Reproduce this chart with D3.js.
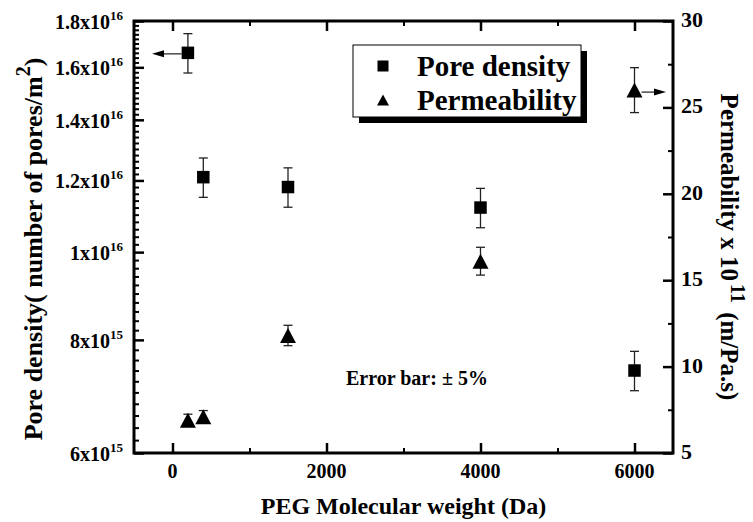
<!DOCTYPE html>
<html>
<head>
<meta charset="utf-8">
<script src="https://cdn.jsdelivr.net/npm/d3@7"></script>
<style>
  body { margin: 0; background: #fff; }
  svg { display: block; font-family: "Liberation Serif", "Times New Roman", serif; font-weight: bold; }
</style>
</head>
<body>
<svg width="753" height="522" font-family="Liberation Serif" font-weight="bold"></svg>
<script>
//Data
const pegWeight = [200, 400, 1500, 4000, 6000];
const poreDensity = [1.66e16, 1.21e16, 1.18e16, 1.12e16, 7.4e15];
const permeability = [6.9, 7.1, 11.8, 16.1, 26.0];
const errorFraction = 0.05;

//Ticks
const xTicks = [0, 2000, 4000, 6000];
const xMinorTicks = [1000, 3000, 5000];
const leftTicks = [6e15, 8e15, 1e16, 1.2e16, 1.4e16, 1.6e16, 1.8e16];
const leftTickBase = ["6x10", "8x10", "1x10", "1.2x10", "1.4x10", "1.6x10", "1.8x10"];
const leftTickExp = ["15", "15", "16", "16", "16", "16", "16"];
const rightTicks = [5, 10, 15, 20, 25, 30];
const rightMinorTicks = [7.5, 12.5, 17.5, 22.5, 27.5];

buildGraph();

function buildGraph()
{
    const left = 134, right = 673, top = 21, bottom = 453;
    const svg = d3.select("svg");

    let xscale = d3.scaleLinear().domain([-500, 6500]).range([left, right]);
    let yleft = d3.scaleLog().domain([6e15, 1.8e16]).range([bottom, top]);
    let yright = d3.scaleLinear().domain([5, 30]).range([bottom, top]);

    // minor ticks of the log axis every 2x10^14
    const leftMinorTicks = d3.range(30, 90).filter(k => k % 10 != 0).map(k => k * 2e14);

    //Ticks (all pointing inward)
    function drawTicks(axis, pos, major, minor) {
        let g1 = svg.append("g").attr("transform", pos)
            .call(axis.tickValues(major).tickSize(-10).tickSizeOuter(0).tickFormat(""));
        g1.selectAll("line").attr("stroke-width", 2.5);
        g1.select(".domain").remove();
        let g2 = svg.append("g").attr("transform", pos)
            .call(axis.tickValues(minor).tickSize(-5).tickSizeOuter(0).tickFormat(""));
        g2.selectAll("line").attr("stroke-width", 2);
        g2.select(".domain").remove();
    }
    drawTicks(d3.axisBottom(xscale), `translate(0,${bottom})`, xTicks, xMinorTicks);
    drawTicks(d3.axisTop(xscale), `translate(0,${top})`, xTicks, xMinorTicks);
    drawTicks(d3.axisLeft(yleft), `translate(${left},0)`, leftTicks, leftMinorTicks);
    drawTicks(d3.axisRight(yright), `translate(${right},0)`, rightTicks, rightMinorTicks);

    //Frame
    svg.append("rect")
        .attr("x", left).attr("y", top)
        .attr("width", right - left).attr("height", bottom - top)
        .attr("fill", "none").attr("stroke", "#000").attr("stroke-width", 3);

    //Tick labels
    svg.append("g").selectAll("text")
        .data(xTicks)
        .enter().append("text")
        .attr("x", d => xscale(d))
        .attr("y", 478)
        .attr("text-anchor", "middle")
        .attr("font-size", 20)
        .text(d => d);

    let ll = svg.append("g").selectAll("text")
        .data(leftTicks)
        .enter().append("text")
        .attr("x", 123)
        .attr("y", d => yleft(d) + 8)
        .attr("text-anchor", "end")
        .attr("font-size", 20);
    ll.append("tspan").text((d, i) => leftTickBase[i]);
    ll.append("tspan").attr("dy", -9).attr("font-size", 13).text((d, i) => leftTickExp[i]);

    svg.append("g").selectAll("text")
        .data(rightTicks)
        .enter().append("text")
        .attr("x", 681)
        .attr("y", d => yright(d) + 6)
        .attr("font-size", 22)
        .text(d => d);

    //Axis titles
    svg.append("text")
        .attr("x", (left + right) / 2)
        .attr("y", 514)
        .attr("text-anchor", "middle")
        .attr("font-size", 24)
        .text("PEG Molecular weight (Da)");

    let lt = svg.append("text")
        .attr("transform", `translate(42,${(top + bottom) / 2 + 12}) rotate(-90)`)
        .attr("text-anchor", "middle")
        .attr("font-size", 26);
    lt.append("tspan").text("Pore density( number of pores/m");
    lt.append("tspan").attr("dy", -12).attr("font-size", 20).text("2");
    lt.append("tspan").attr("dy", 12).text(")");

    let rt = svg.append("text")
        .attr("transform", `translate(721,${(top + bottom) / 2 + 10}) rotate(90)`)
        .attr("text-anchor", "middle")
        .attr("font-size", 25);
    rt.append("tspan").text("Permeability x 10");
    rt.append("tspan").attr("dx", 3).attr("dy", -10).attr("font-size", 20).text("11");
    rt.append("tspan").attr("dx", 3).attr("dy", 10).text(" (m/Pa.s)");

    //Markers
    const square = s => `M${-s / 2},${-s / 2}h${s}v${s}h${-s}Z`;
    const triangle = (w, h) => `M0,${-h / 2}L${w / 2},${h / 2}L${-w / 2},${h / 2}Z`;

    //Error bars
    function errorBars(values, yscale, cap) {
        let g = svg.append("g").attr("stroke", "#222").attr("stroke-width", 1.3);
        values.forEach((v, i) => {
            const cx = xscale(pegWeight[i]);
            const y1 = yscale(v * (1 + errorFraction)), y2 = yscale(v * (1 - errorFraction));
            g.append("line").attr("x1", cx).attr("x2", cx).attr("y1", y1).attr("y2", y2);
            g.append("line").attr("x1", cx - cap).attr("x2", cx + cap).attr("y1", y1).attr("y2", y1);
            g.append("line").attr("x1", cx - cap).attr("x2", cx + cap).attr("y1", y2).attr("y2", y2);
        });
    }
    errorBars(poreDensity, yleft, 4.5);
    errorBars(permeability, yright, 4.5);

    svg.append("g").selectAll("path")
        .data(poreDensity)
        .enter().append("path")
        .attr("transform", (d, i) => `translate(${xscale(pegWeight[i])},${yleft(d)})`)
        .attr("d", square(12.5))
        .attr("fill", "#000");

    svg.append("g").selectAll("path")
        .data(permeability)
        .enter().append("path")
        .attr("transform", (d, i) => `translate(${xscale(pegWeight[i])},${yright(d)})`)
        .attr("d", triangle(16, 15))
        .attr("fill", "#000");

    //Arrows pointing to each series' axis
    function arrow(x1, x2, y) {
        const dir = Math.sign(x2 - x1);
        svg.append("line")
            .attr("x1", x1).attr("x2", x2 - dir * 10).attr("y1", y).attr("y2", y)
            .attr("stroke", "#555").attr("stroke-width", 1.6);
        svg.append("path")
            .attr("d", `M${x2},${y}L${x2 - dir * 12},${y - 3.5}L${x2 - dir * 12},${y + 3.5}Z`)
            .attr("fill", "#000");
    }
    arrow(xscale(pegWeight[0]) - 6, left + 18, yleft(poreDensity[0]) + 1);
    arrow(xscale(pegWeight[4]) + 7, right - 7, yright(permeability[4]) + 2);

    //Error note
    svg.append("text")
        .attr("x", 346)
        .attr("y", 385)
        .attr("font-size", 20)
        .text("Error bar: \u00b1 5%");

    //Legend
    svg.append("rect").attr("x", 359).attr("y", 51).attr("width", 228).attr("height", 72).attr("fill", "#000");
    svg.append("rect").attr("x", 353).attr("y", 45).attr("width", 228).attr("height", 72)
        .attr("fill", "#fff").attr("stroke", "#000").attr("stroke-width", 1);
    svg.append("path").attr("transform", "translate(383,66)").attr("d", square(11)).attr("fill", "#000");
    svg.append("path").attr("transform", "translate(383,100)").attr("d", triangle(12, 11)).attr("fill", "#000");
    svg.append("text").attr("x", 417).attr("y", 76).attr("font-size", 29).text("Pore density");
    svg.append("text").attr("x", 417).attr("y", 110).attr("font-size", 29).text("Permeability");
}
</script>
</body>
</html>
